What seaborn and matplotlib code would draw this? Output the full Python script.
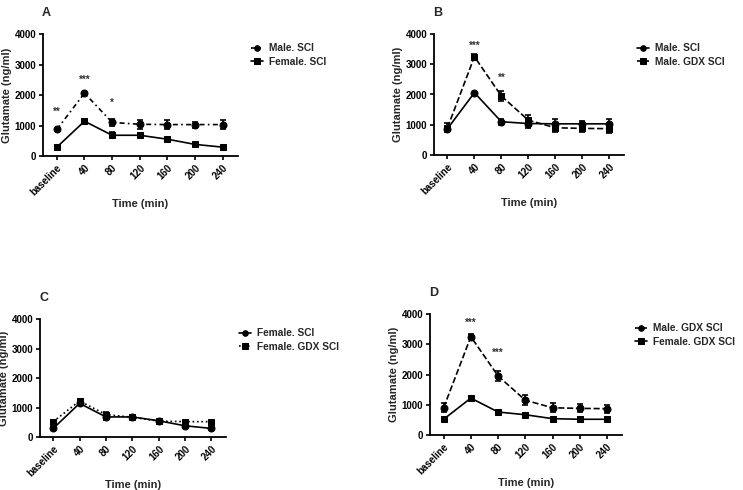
import numpy as np
import pandas as pd
import matplotlib
matplotlib.use('Agg')
import matplotlib.pyplot as plt
import seaborn as sns

sns.set_theme(style='ticks')
plt.rcParams['font.family'] = ['Liberation Sans', 'DejaVu Sans']
plt.rcParams['font.weight'] = 'bold'

# time points
tiempos = ['baseline', '40', '80', '120', '160', '200', '240']

# series (mean, sem)
male_sci = [870, 2060, 1100, 1040, 1030, 1030, 1030]
male_sci_err = [0, 0, 100, 150, 150, 100, 150]
female_sci = [290, 1140, 680, 680, 550, 380, 290]
female_sci_err = [0, 0, 100, 60, 0, 0, 0]
male_gdx = [900, 3250, 1950, 1150, 900, 880, 870]
male_gdx_err = [150, 80, 180, 160, 150, 130, 130]
female_gdx = [520, 1220, 760, 670, 540, 520, 520]
female_gdx_err = [0, 60, 80, 60, 0, 60, 0]

series = {
    'Male. SCI': (male_sci, male_sci_err),
    'Female. SCI': (female_sci, female_sci_err),
    'Male. GDX SCI': (male_gdx, male_gdx_err),
    'Female. GDX SCI': (female_gdx, female_gdx_err),
}

# panel: letra, posicion (px), [(serie, estilo, marcador)], estrellas
paneles = [
    ('A', (43, 34, 238, 156),
     [('Male. SCI', (0, (3, 2, 1, 2)), 'o'), ('Female. SCI', '-', 's')],
     [(0, 1450, '**'), (1, 2500, '***'), (2, 1750, '*')]),
    ('B', (434, 34, 624, 155),
     [('Male. SCI', '-', 'o'), ('Male. GDX SCI', '--', 's')],
     [(1, 3600, '***'), (2, 2550, '**')]),
    ('C', (40, 319, 226, 437),
     [('Female. SCI', '-', 'o'), ('Female. GDX SCI', ':', 's')],
     []),
    ('D', (430, 314, 622, 435),
     [('Male. GDX SCI', '--', 'o'), ('Female. GDX SCI', '-', 's')],
     [(1, 3700, '***'), (2, 2700, '***')]),
]

W, H = 743, 490
fig = plt.figure(figsize=(W / 100, H / 100), dpi=100)

x = np.arange(len(tiempos))
for letra, (x0, y0, x1, y1), lineas, estrellas in paneles:
    ax = fig.add_axes([x0 / W, 1 - y1 / H, (x1 - x0) / W, (y1 - y0) / H])
    for nombre, ls, mk in lineas:
        vals, err = series[nombre]
        df = pd.DataFrame({'t': x, 'v': vals})
        sns.lineplot(data=df, x='t', y='v', ax=ax, color='black', linestyle=ls,
                     marker=mk, markersize=5, markeredgecolor='black', linewidth=1.2,
                     label=nombre)
        ax.errorbar(x, vals, yerr=err, fmt='none', ecolor='black', elinewidth=1.2,
                    capsize=2.5, capthick=1.2)
    for xi, yi, s in estrellas:
        ax.text(xi, yi, s, ha='center', va='center', fontsize=7, color='#333333')
    ax.set_xlim(-0.5, 6.55)
    ax.set_ylim(0, 4000)
    ax.set_yticks([0, 1000, 2000, 3000, 4000])
    ax.set_xticks(x)
    ax.set_xticklabels(tiempos, rotation=45, ha='right', rotation_mode='anchor')
    ax.tick_params(labelsize=7, width=1.2, length=3, pad=2, colors='black')
    for lab in ax.get_xticklabels() + ax.get_yticklabels():
        lab.set_fontweight('bold')
    for sp in ['left', 'bottom']:
        ax.spines[sp].set_linewidth(1.3)
        ax.spines[sp].set_color('black')
    sns.despine(ax=ax)
    ax.set_xlabel('Time (min)', fontsize=8, fontweight='bold', labelpad=1)
    ax.set_ylabel('Glutamate (ng/ml)', fontsize=8, fontweight='bold', labelpad=2)
    ax.set_facecolor('white')
    ax.legend(loc='upper left', bbox_to_anchor=(1.02, 1.0), frameon=False,
              handlelength=1.2, handletextpad=0.6, labelspacing=0.35,
              markerscale=0.8, prop={'weight': 'bold', 'size': 7.3})
    fig.text((x0 - 1) / W, 1 - (y0 - 21) / H, letra, fontsize=9, fontweight='bold',
             ha='left', va='center')

fig.savefig('out.png', dpi=100, facecolor='white')
